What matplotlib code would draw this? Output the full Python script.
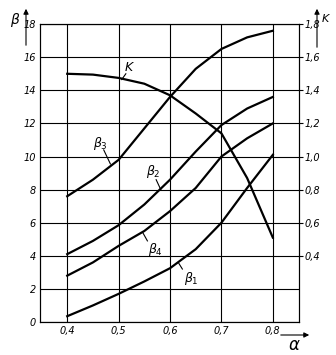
import matplotlib
matplotlib.use("Agg")
import matplotlib.pyplot as plt
from matplotlib.patches import FancyArrowPatch

alpha = [0.40, 0.45, 0.50, 0.55, 0.60, 0.65, 0.70, 0.75, 0.80]
beta3 = [7.6, 8.6, 9.8, 11.7, 13.6, 15.3, 16.5, 17.2, 17.6]
beta2 = [4.1, 4.9, 5.85, 7.1, 8.6, 10.3, 11.9, 12.9, 13.6]
beta4 = [2.8, 3.6, 4.6, 5.5, 6.7, 8.1, 10.0, 11.1, 12.0]
beta1 = [0.35, 1.0, 1.7, 2.45, 3.25, 4.4, 6.0, 8.1, 10.1]
K = [1.50, 1.495, 1.475, 1.44, 1.37, 1.26, 1.14, 0.87, 0.51]

x_ticks = [0.4, 0.5, 0.6, 0.7, 0.8]
x_labels = ["0,4", "0,5", "0,6", "0,7", "0,8"]
beta_ticks = [0, 2, 4, 6, 8, 10, 12, 14, 16, 18]
beta_labels = ["0", "2", "4", "6", "8", "10", "12", "14", "16", "18"]
k_ticks = [0.4, 0.6, 0.8, 1.0, 1.2, 1.4, 1.6, 1.8]
k_labels = ["0,4", "0,6", "0,8", "1,0", "1,2", "1,4", "1,6", "1,8"]

fig = plt.figure(figsize=(3.36, 3.55), dpi=100)
ax = fig.add_axes([0.119, 0.093, 0.771, 0.839])
ax.set_xlim(0.347, 0.851)
ax.set_ylim(0, 18)
ax2 = ax.twinx()
ax2.set_ylim(0, 1.8)

tkw = dict(fontsize=7, style="italic", family="DejaVu Sans")
ax.set_xticks(x_ticks)
ax.set_xticklabels(x_labels, **tkw)
ax.set_yticks(beta_ticks)
ax.set_yticklabels(beta_labels, **tkw)
ax2.set_yticks(k_ticks)
ax2.set_yticklabels(k_labels, **tkw)
ax.tick_params(axis="both", length=0, pad=3)
ax2.tick_params(axis="y", length=3, width=0.8, pad=1)
ax.grid(True, color="black", linewidth=0.8)
for a in (ax, ax2):
    for s in a.spines.values():
        s.set_linewidth(0.8)

lw = 1.6
ax.plot(alpha, beta3, color="black", lw=lw)
ax.plot(alpha, beta2, color="black", lw=lw)
ax.plot(alpha, beta4, color="black", lw=lw)
ax.plot(alpha, beta1, color="black", lw=lw)
ax2.plot(alpha, K, color="black", lw=lw)

# curve labels with leader lines
lab = dict(fontsize=9, style="italic", color="black", ha="center", va="center")
leaders = [
    ("K", (0.52, 15.4), (0.514, 15.0), (0.506, 14.65)),
    (r"$\beta_3$", (0.465, 10.8), (0.471, 10.4), (0.484, 9.55)),
    (r"$\beta_2$", (0.567, 9.1), (0.573, 8.6), (0.582, 8.0)),
    (r"$\beta_4$", (0.571, 4.4), (0.556, 4.9), (0.547, 5.4)),
    (r"$\beta_1$", (0.641, 2.6), (0.624, 3.2), (0.616, 3.6)),
]
for txt, pos, p0, p1 in leaders:
    ax.text(pos[0], pos[1], txt, **lab)
    ax.plot([p0[0], p1[0]], [p0[1], p1[1]], color="black", lw=0.8)

# axis titles with arrows (figure coords)
arr = dict(transform=fig.transFigure, arrowstyle="-|>,head_length=3,head_width=1.5",
           lw=0.8, color="black")
fig.text(15/336, 1 - 20/355, r"$\beta$", fontsize=10, ha="center", va="center")
fig.add_artist(FancyArrowPatch((26/336, 1 - 48/355), (26/336, 1 - 6/355), **arr))
fig.text(325/336, 1 - 19/355, "K", fontsize=8, style="italic", ha="center", va="center")
fig.add_artist(FancyArrowPatch((317/336, 1 - 50/355), (317/336, 1 - 6/355), **arr))
fig.text(294/336, 1 - 345/355, r"$\alpha$", fontsize=12, ha="center", va="center")
fig.add_artist(FancyArrowPatch((278/336, 1 - 335/355), (312/336, 1 - 335/355), **arr))

fig.savefig("out.png", dpi=100, facecolor="white")
